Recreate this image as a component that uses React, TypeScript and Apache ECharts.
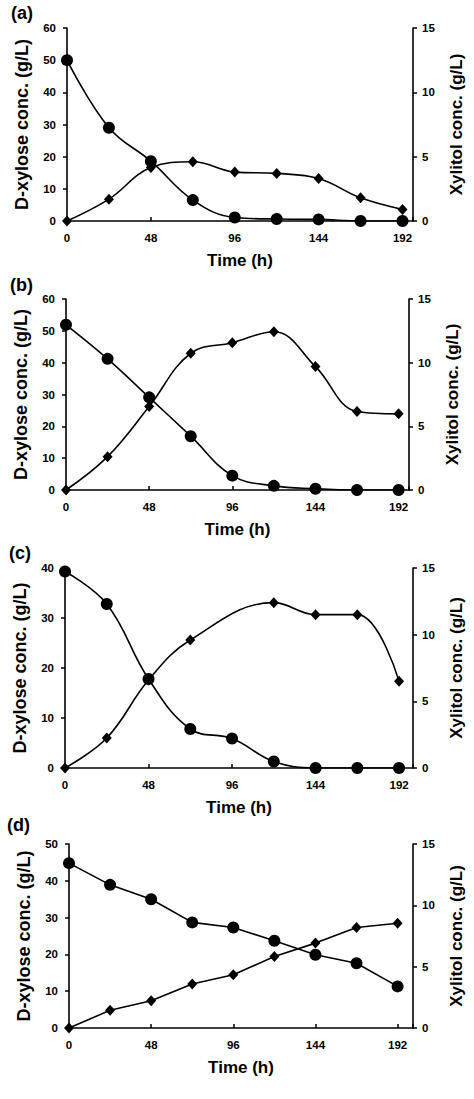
import React, { useEffect, useRef } from "react";
import * as echarts from "echarts";

const hours = [0, 24, 48, 72, 96, 120, 144, 168, 192];
const xTicks = [0, 48, 96, 144, 192];

const xyloseA = [50, 29, 18.6, 6.5, 1.1, 0.6, 0.5, 0, 0];
const xylitolA = [0, 1.7, 4.15, 4.6, 3.8, 3.7, 3.3, 1.8, 0.9];

const xyloseB = [51.9, 41.2, 29.1, 16.9, 4.5, 1.3, 0.4, 0, 0];
const xylitolB = [0, 2.62, 6.56, 10.74, 11.57, 12.43, 9.69, 6.16, 5.98];

const xyloseC = [39.3, 32.8, 17.8, 7.8, 5.9, 1.3, 0, 0, 0];
const xylitolC = [0, 2.25, 6.6, 9.6, null, 12.4, 11.5, 11.5, 6.5];

const xyloseD = [44.8, 38.9, 35.0, 28.7, 27.3, 23.7, 19.9, 17.6, 11.3];
const xylitolD = [0, 1.44, 2.22, 3.58, 4.34, 5.83, 6.92, 8.19, 8.54];

const panelLabels = ["(a)", "(b)", "(c)", "(d)"];
const leftMax = [60, 60, 40, 50];
const rightMax = [15, 15, 15, 15];
const xMax = [198, 198, 200, 201];
const leftTitle = "D-xylose conc. (g/L)";
const rightTitle = "Xylitol conc. (g/L)";
const xTitle = "Time (h)";

const xyloseSets = [xyloseA, xyloseB, xyloseC, xyloseD];
const xylitolSets = [xylitolA, xylitolB, xylitolC, xylitolD];
const smoothFlags = [true, true, true, false];

const grids = [
  { left: 67, right: 61, top: 28, height: 193 },
  { left: 66, right: 65, top: 299, height: 191 },
  { left: 65, right: 61, top: 568, height: 200 },
  { left: 69, right: 61, top: 844, height: 184 },
];
const labelPos = [
  { x: 11, y: 13 },
  { x: 10, y: 285 },
  { x: 9, y: 553 },
  { x: 7, y: 825 },
];

const FONT = "'Liberation Sans', Arial, sans-serif";

export default function App() {
  const ref = useRef<HTMLDivElement>(null);
  useEffect(() => {
    if (!ref.current) return;
    const chart = echarts.init(ref.current, undefined, { renderer: "svg" });
    const axisLine = { show: true, lineStyle: { color: "#000", width: 1.6 } };
    const tickLabel = { color: "#000", fontSize: 11.5, fontWeight: "bold" as const, fontFamily: FONT };
    const nameStyle = { color: "#000", fontSize: 17, fontWeight: "bold" as const, fontFamily: FONT };

    const xAxes: any[] = [];
    const yAxes: any[] = [];
    const series: any[] = [];
    grids.forEach((g, i) => {
      xAxes.push({
        type: "value",
        gridIndex: i,
        min: 0,
        max: xMax[i],
        interval: 48,
        name: xTitle,
        nameLocation: "middle",
        nameGap: 31,
        nameTextStyle: nameStyle,
        axisLine,
        axisTick: { show: true, inside: true, length: 4, lineStyle: { color: "#000", width: 1.5 } },
        axisLabel: {
          ...tickLabel,
          margin: 11,
          formatter: (v: number) => (xTicks.includes(v) ? String(v) : ""),
        },
        splitLine: { show: false },
      });
      yAxes.push({
        type: "value",
        gridIndex: i,
        position: "left",
        min: 0,
        max: leftMax[i],
        interval: 10,
        name: leftTitle,
        nameLocation: "middle",
        nameRotate: 90,
        nameGap: 36,
        nameTextStyle: { ...nameStyle, fontSize: 18 },
        axisLine,
        axisTick: { show: true, inside: false, length: 4, lineStyle: { color: "#000", width: 1.5 } },
        axisLabel: { ...tickLabel, margin: 11 },
        splitLine: { show: false },
      });
      yAxes.push({
        type: "value",
        gridIndex: i,
        position: "right",
        min: 0,
        max: rightMax[i],
        interval: 5,
        name: rightTitle,
        nameLocation: "middle",
        nameRotate: 90,
        nameGap: 35,
        nameTextStyle: nameStyle,
        axisLine,
        axisTick: { show: true, inside: false, length: 4, lineStyle: { color: "#000", width: 1.5 } },
        axisLabel: { ...tickLabel, margin: 9 },
        splitLine: { show: false },
      });
      series.push({
        type: "line",
        name: "Xylitol " + panelLabels[i],
        xAxisIndex: i,
        yAxisIndex: i * 2 + 1,
        data: hours.map((h, k) => [h, xylitolSets[i][k]]),
        smooth: smoothFlags[i] ? 0.4 : false,
        connectNulls: true,
        symbol: "diamond",
        symbolSize: [10, 11],
        showAllSymbol: true,
        lineStyle: { color: "#000", width: 1.6 },
        itemStyle: { color: "#000" },
        z: 3,
      });
      series.push({
        type: "line",
        name: "D-xylose " + panelLabels[i],
        xAxisIndex: i,
        yAxisIndex: i * 2,
        data: hours.map((h, k) => [h, xyloseSets[i][k]]),
        smooth: smoothFlags[i] ? 0.4 : false,
        symbol: "circle",
        symbolSize: 12,
        showAllSymbol: true,
        lineStyle: { color: "#000", width: 1.6 },
        itemStyle: { color: "#000" },
        z: 4,
      });
    });

    chart.setOption({
      animation: false,
      backgroundColor: "#fff",
      grid: grids.map((g) => ({ ...g, outerBoundsMode: "none", containLabel: false })),
      xAxis: xAxes,
      yAxis: yAxes,
      series,
      graphic: panelLabels.map((t, i) => ({
        type: "text",
        x: labelPos[i].x,
        y: labelPos[i].y,
        style: {
          text: t,
          fill: "#000",
          fontSize: 18,
          fontWeight: "bold",
          fontFamily: FONT,
          textVerticalAlign: "middle",
          verticalAlign: "middle",
        },
      })),
    });
    return () => chart.dispose();
  }, []);
  return (
    <div
      ref={ref}
      style={{ position: "absolute", left: 0, top: 0, width: 474, height: 1099 }}
    />
  );
}
